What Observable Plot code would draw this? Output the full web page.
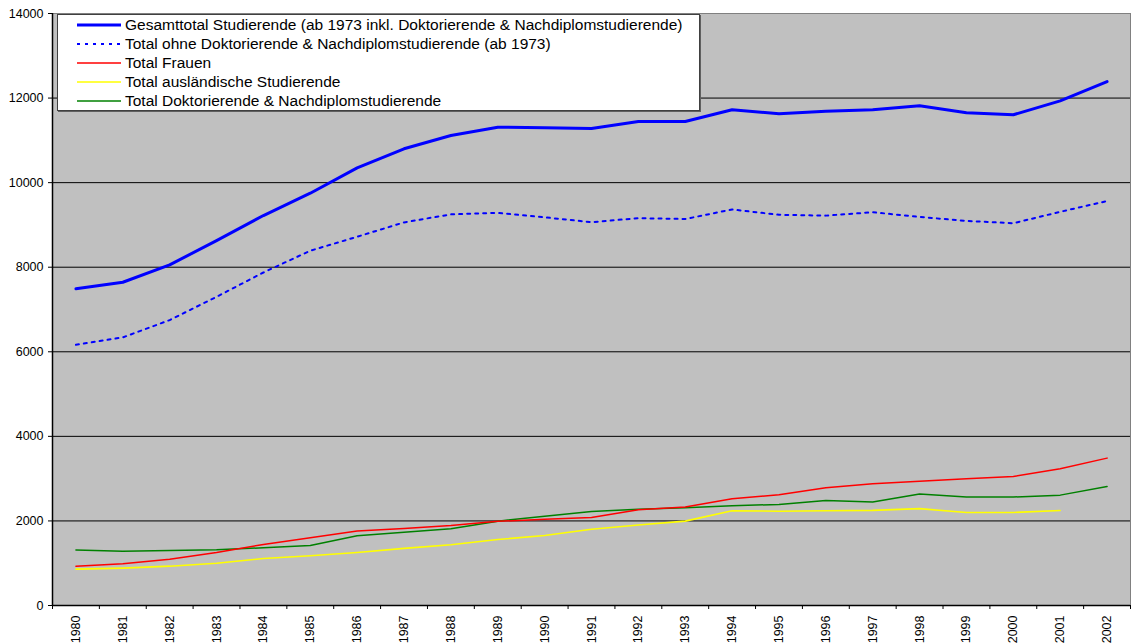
<!DOCTYPE html>
<html>
<head>
<meta charset="utf-8">
<script src="https://cdn.jsdelivr.net/npm/d3@7"></script>
<script src="https://cdn.jsdelivr.net/npm/@observablehq/plot@0.6"></script>
<style>
  html, body { margin: 0; padding: 0; background: white; }
  #wrap { position: relative; width: 1132px; height: 644px; font-family: "Liberation Sans", Arial, sans-serif; }
  #legend { position: absolute; left: 57px; top: 14px; width: 641px; height: 95px; background: white; border: 1px solid #404040; box-shadow: 1px 1px 0 #606060; }
  .row { position: absolute; left: 0; height: 19px; display: flex; align-items: center; font-size: 15.5px; color: black; white-space: nowrap; }
  .row svg { width: 44px; height: 6px; margin-left: 19px; margin-right: 4px; }
</style>
</head>
<body>
<div id="wrap">
  <div id="chart"></div>
  <div id="legend"></div>
</div>
<script>
const years = [1980,1981,1982,1983,1984,1985,1986,1987,1988,1989,1990,1991,1992,1993,1994,1995,1996,1997,1998,1999,2000,2001,2002];
const gesamt = [7490,7645,8055,8630,9222,9750,10350,10800,11115,11310,11300,11280,11445,11445,11725,11630,11690,11725,11820,11655,11605,11935,12390];
const ohne = [6165,6340,6750,7300,7875,8390,8720,9060,9250,9285,9180,9065,9160,9140,9365,9240,9220,9300,9190,9095,9040,9310,9565];
const frauen = [930,985,1095,1255,1445,1600,1760,1820,1890,1990,2040,2080,2265,2330,2525,2620,2785,2880,2940,2995,3050,3235,3485];
const auslaender = [860,885,930,1000,1110,1175,1255,1350,1435,1560,1655,1805,1905,1995,2240,2230,2240,2250,2290,2200,2200,2245,null];
const doktor = [1310,1280,1300,1320,1365,1420,1650,1730,1815,1995,2110,2225,2275,2310,2360,2390,2485,2445,2635,2565,2565,2610,2815];
const yTicks = [0,2000,4000,6000,8000,10000,12000,14000];

const seriesNames = [
  "Gesamttotal Studierende (ab 1973 inkl. Doktorierende & Nachdiplomstudierende)",
  "Total ohne Doktorierende & Nachdiplomstudierende (ab 1973)",
  "Total Frauen",
  "Total ausländische Studierende",
  "Total Doktorierende & Nachdiplomstudierende"
];
const seriesValues = [gesamt, ohne, frauen, auslaender, doktor];
const seriesStyle = [
  {stroke: "#0000ff", strokeWidth: 3, dash: null},
  {stroke: "#0000ff", strokeWidth: 2, dash: "3,5"},
  {stroke: "#ff0000", strokeWidth: 1.5, dash: null},
  {stroke: "#ffff00", strokeWidth: 1.6, dash: null},
  {stroke: "#008000", strokeWidth: 1.5, dash: null}
];

const bounds = years.map(y => y - 0.5).concat([years[years.length - 1] + 0.5]);

const lineMarks = seriesValues.map((vals, i) => {
  const rows = years.map((yr, j) => ({year: yr, value: vals[j]}));
  const s = seriesStyle[i];
  return Plot.lineY(rows, {x: "year", y: "value", stroke: s.stroke, strokeWidth: s.strokeWidth, strokeDasharray: s.dash, strokeLinejoin: "round"});
});

const chart = Plot.plot({
  width: 1132,
  height: 644,
  marginLeft: 52,
  marginRight: 2,
  marginTop: 13,
  marginBottom: 39,
  style: {fontFamily: "'Liberation Sans', Arial, sans-serif", fontSize: "12.5px", color: "black", background: "white"},
  x: {type: "linear", domain: [bounds[0], bounds[bounds.length - 1]], label: null},
  y: {domain: [yTicks[0], yTicks[yTicks.length - 1]], label: null},
  marks: [
    Plot.frame({fill: "#c0c0c0", stroke: "#808080"}),
    Plot.ruleY(yTicks.slice(1, -1), {stroke: "black", strokeWidth: 1}),
    ...lineMarks.slice().reverse(),
    Plot.ruleY([yTicks[0]], {stroke: "black", strokeWidth: 1.5}),
    Plot.ruleX([bounds[0]], {stroke: "black", strokeWidth: 1.5}),
    Plot.axisY({ticks: yTicks, tickSize: 4, tickPadding: 5, tickFormat: d3.format("d"), label: null, stroke: "black"}),
    Plot.axisX({ticks: bounds, tickSize: 4, tickFormat: () => "", label: null, stroke: "black"}),
    Plot.axisX({ticks: years, tickSize: 0, tickPadding: 10, tickRotate: -90, tickFormat: d => String(d), label: null})
  ]
});
document.getElementById("chart").appendChild(chart);

const legend = document.getElementById("legend");
seriesNames.forEach((name, i) => {
  const s = seriesStyle[i];
  const row = document.createElement("div");
  row.className = "row";
  row.style.top = (0.5 + i * 19.1) + "px";
  row.innerHTML = `<svg viewBox="0 0 44 6"><line x1="0" x2="44" y1="3" y2="3" stroke="${s.stroke}" stroke-width="${s.strokeWidth}" ${s.dash ? `stroke-dasharray="${s.dash}"` : ""}/></svg><span></span>`;
  row.querySelector("span").textContent = name;
  legend.appendChild(row);
});
</script>
</body>
</html>
